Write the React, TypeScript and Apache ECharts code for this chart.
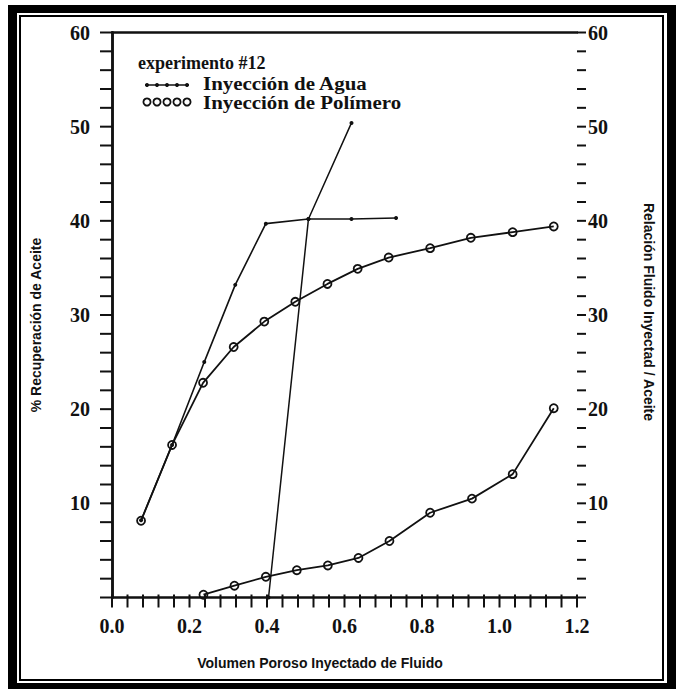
import React, { useEffect, useRef } from "react";
import * as echarts from "echarts";

// Volumen poroso inyectado (x) and values
const waterX = [0.075, 0.155, 0.238, 0.318, 0.397, 0.507, 0.618, 0.733];
const waterRecovery = [8.2, 16.2, 25.0, 33.2, 39.7, 40.2, 40.2, 40.3];
const waterRatioX = [0.404, 0.507, 0.618];
const waterRatio = [0, 40.2, 50.4];
const polymerX = [0.075, 0.155, 0.235, 0.314, 0.393, 0.473, 0.556, 0.634, 0.714, 0.821, 0.926, 1.034, 1.14];
const polymerRecovery = [8.15, 16.2, 22.8, 26.6, 29.3, 31.4, 33.3, 34.9, 36.1, 37.1, 38.2, 38.8, 39.4];
const polymerRatioX = [0.236, 0.316, 0.397, 0.477, 0.557, 0.636, 0.716, 0.821, 0.929, 1.034, 1.14];
const polymerRatio = [0.3, 1.25, 2.2, 2.9, 3.4, 4.2, 6.0, 9.0, 10.5, 13.1, 20.1];

// tick marks (every 0.04 on x, every 2 on y)
const xTickValues = Array.from({ length: 31 }, (_, i) => +(i * 0.04).toFixed(2));
const yTickValues = Array.from({ length: 31 }, (_, i) => i * 2);

const legendTitle = "experimento #12";
const legendWater = "Inyección de Agua";
const legendPolymer = "Inyección de Polímero";
const xTitle = "Volumen Poroso Inyectado de Fluido";
const yLeftTitle = "% Recuperación de Aceite";
const yRightTitle = "Relación Fluido Inyectad / Aceite";

const X_MAX = 1.2;
const INK = "#111";
const SERIF = "'Liberation Serif', 'Times New Roman', serif";
const SANS = "'Liberation Sans', Arial, sans-serif";

const zip = (xs: number[], ys: number[]) => xs.map((x, i) => [x, ys[i]]);

export default function App() {
  const ref = useRef<HTMLDivElement>(null);
  useEffect(() => {
    if (!ref.current) return;
    const chart = echarts.init(ref.current, null, { renderer: "svg" });
    const tickLabel = {
      color: INK,
      fontFamily: SERIF,
      fontWeight: "bold" as const,
      fontSize: 20,
    };
    const yAxisBase = (pos: "left" | "right") => ({
      type: "value" as const,
      position: pos,
      min: 0,
      max: 60,
      interval: 10,
      splitLine: { show: false },
      axisLine: { show: true, lineStyle: { color: INK, width: 2.5 } },
      axisTick: { show: false },
      minorTick: { show: false },
      axisLabel: {
        ...tickLabel,
        margin: pos === "left" ? 22 : 11,
        formatter: (v: number) => (v === 0 ? "" : String(v)),
      },
    });
    const legendDots = [0, 1, 2, 3, 4];
    const baseGraphic: any[] = [
      // outer thick frame
      { type: "rect", shape: { x: 8, y: 5, width: 668, height: 8 }, style: { fill: "#000" } },
      { type: "rect", shape: { x: 8, y: 683, width: 668, height: 6 }, style: { fill: "#000" } },
      { type: "rect", shape: { x: 8, y: 5, width: 9, height: 684 }, style: { fill: "#000" } },
      { type: "rect", shape: { x: 667, y: 5, width: 9, height: 684 }, style: { fill: "#000" } },
      // inner thin frame
      { type: "rect", shape: { x: 20, y: 16, width: 643, height: 664 }, style: { fill: "none", stroke: "#000", lineWidth: 2 } },
      // axis titles
      {
        type: "text",
        x: 320,
        y: 663,
        style: { text: xTitle, fill: INK, font: `bold 14px ${SANS}`, align: "center", verticalAlign: "middle" },
      },
      {
        type: "text",
        x: 36,
        y: 325,
        rotation: Math.PI / 2,
        style: { text: yLeftTitle, fill: INK, font: `bold 14px ${SANS}`, align: "center", verticalAlign: "middle" },
      },
      {
        type: "text",
        x: 649,
        y: 312,
        rotation: -Math.PI / 2,
        style: { text: yRightTitle, fill: INK, font: `bold 14px ${SANS}`, align: "center", verticalAlign: "middle" },
      },
      // legend
      {
        type: "text",
        x: 138,
        y: 63,
        style: { text: legendTitle, fill: INK, font: `bold 18px ${SERIF}`, verticalAlign: "middle" },
      },
      { type: "line", shape: { x1: 145, y1: 85, x2: 189, y2: 85 }, style: { stroke: INK, lineWidth: 1.6 } },
      ...legendDots.map((i) => ({
        type: "circle",
        shape: { cx: 147 + i * 10, cy: 85, r: 2 },
        style: { fill: INK },
      })),
      {
        type: "text",
        x: 203,
        y: 83.5,
        scaleX: 1.1,
        style: { text: legendWater, fill: INK, font: `bold 19px ${SERIF}`, verticalAlign: "middle" },
      },
      ...legendDots.map((i) => ({
        type: "circle",
        shape: { cx: 147 + i * 10, cy: 102, r: 3.6 },
        style: { fill: "none", stroke: INK, lineWidth: 1.8 },
      })),
      {
        type: "text",
        x: 203,
        y: 102.5,
        scaleX: 1.1,
        style: { text: legendPolymer, fill: INK, font: `bold 19px ${SERIF}`, verticalAlign: "middle" },
      },
    ];
    chart.setOption({
      animation: false,
      backgroundColor: "#fff",
      grid: { left: 112, right: 99, top: 32.5, bottom: 91.5 },
      xAxis: [
        {
          type: "value",
          position: "bottom",
          min: 0,
          max: X_MAX,
          interval: 0.2,
          splitLine: { show: false },
          axisLine: { show: true, onZero: false, lineStyle: { color: INK, width: 2.5 } },
          axisTick: { show: false },
          minorTick: { show: false },
          axisLabel: { ...tickLabel, margin: 18, formatter: (v: number) => v.toFixed(1) },
        },
        {
          type: "value",
          position: "top",
          min: 0,
          max: X_MAX,
          interval: 0.2,
          splitLine: { show: false },
          axisLine: { show: true, onZero: false, lineStyle: { color: INK, width: 2.5 } },
          axisTick: { show: false },
          axisLabel: { show: false },
        },
      ],
      yAxis: [yAxisBase("left"), yAxisBase("right")],
      series: [
        {
          type: "line",
          name: legendWater,
          data: zip(waterX, waterRecovery),
          yAxisIndex: 0,
          symbol: "circle",
          symbolSize: 4,
          itemStyle: { color: INK },
          lineStyle: { color: INK, width: 1.6 },
        },
        {
          type: "line",
          name: legendWater + " (relación)",
          data: zip(waterRatioX, waterRatio),
          yAxisIndex: 1,
          symbol: "circle",
          symbolSize: 4,
          itemStyle: { color: INK },
          lineStyle: { color: INK, width: 1.5 },
        },
        {
          type: "line",
          name: legendPolymer,
          data: zip(polymerX, polymerRecovery),
          yAxisIndex: 0,
          symbol: "circle",
          symbolSize: 8,
          itemStyle: { color: "rgba(255,255,255,0)", borderColor: INK, borderWidth: 1.8 },
          lineStyle: { color: INK, width: 1.8 },
        },
        {
          type: "line",
          name: legendPolymer + " (relación)",
          data: zip(polymerRatioX, polymerRatio),
          yAxisIndex: 1,
          symbol: "circle",
          symbolSize: 8,
          itemStyle: { color: "rgba(255,255,255,0)", borderColor: INK, borderWidth: 1.8 },
          lineStyle: { color: INK, width: 1.8 },
        },
      ],
      graphic: baseGraphic,
    });

    // tick marks placed through the chart's own scales
    const TW = 2;
    const LEN_X = 10;
    const LEN_L = 12;
    const LEN_R = 9;
    const toPx = (x: number, y: number) =>
      chart.convertToPixel({ xAxisIndex: 0, yAxisIndex: 0 }, [x, y]) as number[];
    const tickEls: any[] = [];
    xTickValues.forEach((v) => {
      const p = toPx(v, 0);
      tickEls.push({
        type: "rect",
        z: 100,
        shape: { x: p[0] - TW / 2, y: p[1] - 3, width: TW, height: LEN_X + 3 },
        style: { fill: INK },
      });
    });
    yTickValues.forEach((v) => {
      const l = toPx(0, v);
      const r = toPx(X_MAX, v);
      tickEls.push({ type: "rect", z: 100, shape: { x: l[0] - LEN_L, y: l[1] - TW / 2, width: LEN_L, height: TW }, style: { fill: INK } });
      tickEls.push({ type: "rect", z: 100, shape: { x: r[0], y: r[1] - TW / 2, width: LEN_R, height: TW }, style: { fill: INK } });
    });
    chart.setOption({ graphic: [...baseGraphic, ...tickEls] });
    return () => chart.dispose();
  }, []);
  return <div ref={ref} style={{ position: "absolute", left: 0, top: 0, width: 676, height: 689 }} />;
}
